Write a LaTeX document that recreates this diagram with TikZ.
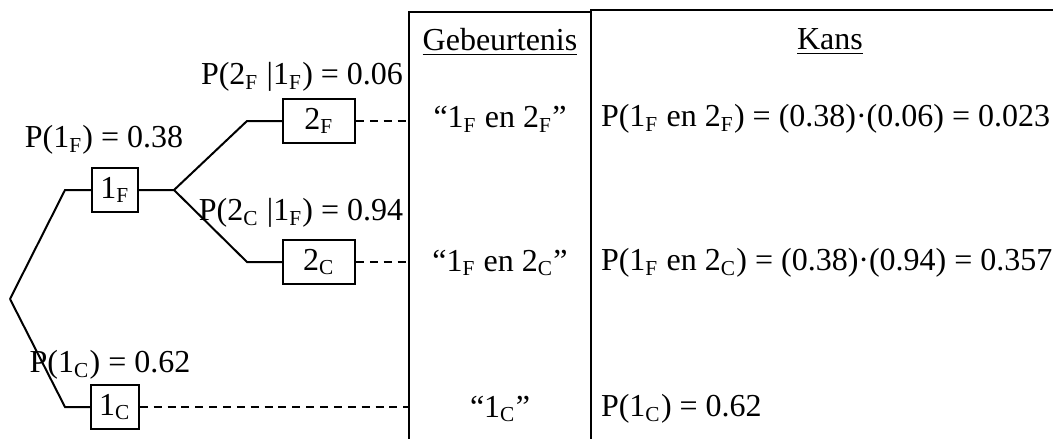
\documentclass[tikz,border=0pt]{standalone}
\usepackage{fontspec}
\setmainfont{Liberation Serif}
\usetikzlibrary{positioning, calc}
\newcommand{\subtxt}[1]{\textsubscript{#1}}

\begin{document}
\begin{tikzpicture}[x=0.375pt, y=-0.375pt, line width=0.75pt,
                    font=\fontsize{12}{14}\selectfont,
                    outcome/.style={draw, inner sep=3pt, minimum height=16.5pt},
                    wide/.style={outcome, minimum width=27pt},
                    link/.style={dash pattern=on 3pt off 2.2pt}]
    \useasboundingbox (0,0) rectangle (1053,439);

    % Table with the two columns
    \coordinate (tl) at (409,12);
    \coordinate (tm) at (591,10);
    \draw (409,439) -- (tl) -- (591,12);
    \draw (591,439) -- (tm) -- (1053,10);
    \node (hEv) at (500,42) {\underline{Gebeurtenis}};
    \node (hKa) at (830,42) {\underline{Kans}};

    % Outcomes of the tree
    \coordinate (root) at (10,299);
    \coordinate (fork) at (174,190);
    \node[outcome] (b1F) at (115,190) {1\subtxt{F}};
    \node[wide] (b2F) at (319,121) {2\subtxt{F}};
    \node[wide] (b2C) at (319,262) {2\subtxt{C}};
    \node[outcome] (b1C) at (115,407) {1\subtxt{C}};

    % Branch probabilities
    \node (p1F) at (104,140) {P(1\subtxt{F}) = 0.38};
    \node (p2F) at (302,77) {P(2\subtxt{F} |1\subtxt{F}) = 0.06};
    \node (p2C) at (301,213) {P(2\subtxt{C} |1\subtxt{F}) = 0.94};
    \node (p1C) at (110,365) {P(1\subtxt{C}) = 0.62};

    % Branches
    \draw (root) -- (65,190) -- (b1F.west);
    \draw (b1F.east) -- (fork) -- (247,121) -- (b2F.west);
    \draw (fork) -- (247,262) -- (b2C.west);
    \draw (root) -- (65,407) -- (b1C.west);

    % Events and their chances
    \node (e1) at (500,119) {“1\subtxt{F} en 2\subtxt{F}”};
    \node (e2) at (500,263) {“1\subtxt{F} en 2\subtxt{C}”};
    \node (e3) at (500,409) {“1\subtxt{C}”};
    \node[anchor=west, inner sep=0pt] (k1) at (600,119) {P(1\subtxt{F} en 2\subtxt{F}) = (0.38)·(0.06) = 0.023};
    \node[anchor=west, inner sep=0pt] (k2) at (600,263) {P(1\subtxt{F} en 2\subtxt{C}) = (0.38)·(0.94) = 0.357};
    \node[anchor=west, inner sep=0pt] (k3) at (600,409) {P(1\subtxt{C}) = 0.62};

    % Dashed links to the table
    \draw[link] (b2F.east) -- (b2F.east -| tl);
    \draw[link] (b2C.east) -- (b2C.east -| tl);
    \draw[link] (b1C.east) -- (b1C.east -| tl);
\end{tikzpicture}
\end{document}
